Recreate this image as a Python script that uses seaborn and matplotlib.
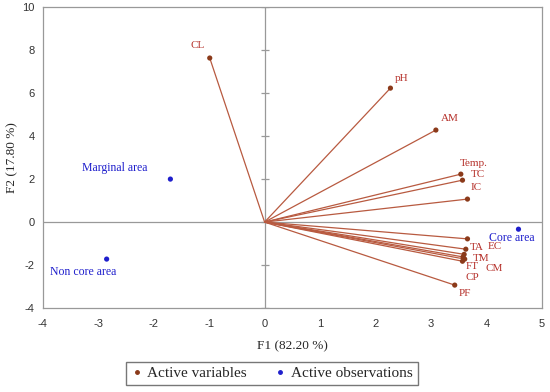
import matplotlib
matplotlib.use("Agg")
import matplotlib.pyplot as plt
import seaborn as sns
import pandas as pd
from matplotlib.lines import Line2D

# Data
var_names = ["CL", "pH", "AM", "Temp.", "TC", "IC", "EC", "TA", "TM", "FT", "CM", "CP", "PF"]
var_f1 = [-0.99, 2.27, 3.09, 3.54, 3.57, 3.66, 3.66, 3.63, 3.60, 3.58, 3.61, 3.57, 3.43]
var_f2 = [7.63, 6.23, 4.28, 2.23, 1.95, 1.07, -0.78, -1.26, -1.50, -1.62, -1.72, -1.82, -2.93]

obs_names = ["Marginal area", "Non core area", "Core area"]
obs_f1 = [-1.70, -2.85, 4.58]
obs_f2 = [2.00, -1.72, -0.33]

x_ticks = [-4, -3, -2, -1, 0, 1, 2, 3, 4, 5]
y_ticks = [-4, -2, 0, 2, 4, 6, 8, 10]

# label offsets (points)
var_off = {"CL": (-9, 9), "pH": (8, 7), "AM": (10, 8), "Temp.": (9, 8), "TC": (11, 4),
           "IC": (6, 8), "EC": (20, -5.5), "TA": (8, 1), "TM": (12, -3), "FT": (6.5, -7),
           "CM": (21, -7), "CP": (7, -12), "PF": (7, -6)}
obs_off = {"Marginal area": (-40, 8), "Non core area": (-17, -9), "Core area": (-5, -6)}

sns.set_style("white")
plt.rcParams['font.family'] = ['Liberation Sans', 'DejaVu Sans']
plt.rcParams['axes.unicode_minus'] = False

fig = plt.figure(figsize=(5.5, 3.92), dpi=100)
ax = fig.add_axes([0.078, 0.214, 0.907, 0.768])

line_col = "#B85A40"
var_col = "#8B3A1A"
txt_col = "#B5302A"
obs_col = "#1F1FCC"

ax.axhline(0, color="#999999", lw=0.9, zorder=1)
ax.axvline(0, color="#999999", lw=0.9, zorder=1)
# tick marks on the vertical center line
ax.plot([0]*len(y_ticks), y_ticks, ls="none", marker="_", ms=6, color="#999999", mew=0.9, zorder=1)

for x, y in zip(var_f1, var_f2):
    ax.plot([0, x], [0, y], color=line_col, lw=0.9, zorder=2)

dv = pd.DataFrame({"F1": var_f1, "F2": var_f2})
do = pd.DataFrame({"F1": obs_f1, "F2": obs_f2})
sns.scatterplot(data=dv, x="F1", y="F2", color=var_col, s=14, edgecolor="none", ax=ax, zorder=3)
sns.scatterplot(data=do, x="F1", y="F2", color=obs_col, s=14, edgecolor="none", ax=ax, zorder=3)

for n, x, y in zip(var_names, var_f1, var_f2):
    dx, dy = var_off[n]
    ax.annotate(n, (x, y), xytext=(dx, dy), textcoords="offset points", ha="center", va="center",
                fontsize=8, color=txt_col, family="Liberation Serif")
for n, x, y in zip(obs_names, obs_f1, obs_f2):
    dx, dy = obs_off[n]
    ax.annotate(n, (x, y), xytext=(dx, dy), textcoords="offset points", ha="center", va="center",
                fontsize=8.5, color=obs_col, family="Liberation Serif")

ax.set_xlim(-4, 5)
ax.set_ylim(-4, 10)
ax.set_xticks(x_ticks)
ax.set_yticks(y_ticks)
ax.tick_params(axis="x", labelsize=8, colors="#333333", length=0, pad=8)
ax.tick_params(axis="y", labelsize=8, colors="#333333", length=0, pad=6)
for s in ax.spines.values():
    s.set_color("#999999")
    s.set_linewidth(0.9)
ax.set_xlabel("F1 (82.20 %)", family="Liberation Serif", fontsize=9.5, labelpad=8)
ax.set_ylabel("F2 (17.80 %)", family="Liberation Serif", fontsize=9.5, labelpad=3)

handles = [Line2D([], [], ls="none", marker="o", ms=2.5, color=var_col),
           Line2D([], [], ls="none", marker="o", ms=2.5, color=obs_col)]
leg = fig.legend(handles, ["Active variables", "Active observations"], loc="center",
                 bbox_to_anchor=(0.494, 0.047), ncol=2, frameon=True, fancybox=False,
                 prop={"family": "Liberation Serif", "size": 11}, handletextpad=0.3,
                 columnspacing=1.8, borderpad=0.3, handlelength=0.8, borderaxespad=0)
leg.get_frame().set_edgecolor("#555555")
leg.get_frame().set_linewidth(1.0)

fig.savefig("out.png", dpi=100)
